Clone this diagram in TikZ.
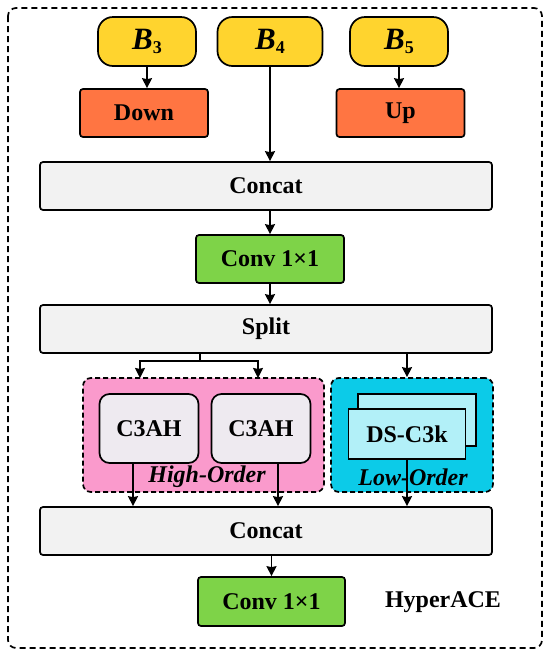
\documentclass[tikz,border=0pt]{standalone}
\usepackage{fontspec}
\setmainfont{Liberation Serif}
\usepackage{tikz}
\usetikzlibrary{arrows.meta, positioning, calc}
\definecolor{inyellow}{HTML}{FFD42E}
\definecolor{scaleorange}{HTML}{FF7542}
\definecolor{convgreen}{HTML}{7ED348}
\definecolor{opgray}{HTML}{F2F2F2}
\definecolor{highpink}{HTML}{FA9ACC}
\definecolor{ahlilac}{HTML}{EEEAF0}
\definecolor{lowcyan}{HTML}{0CCBE8}
\definecolor{dscyan}{HTML}{B2F0F8}
\newcommand{\bfeat}[1]{\textit{\fontsize{31}{34}\selectfont B}\raisebox{-0.4ex}{\fontsize{18}{19}\selectfont #1}}

\begin{document}
\begin{tikzpicture}[
      x=1pt, y=-1pt,
      font=\fontsize{24}{28}\selectfont\bfseries,
      box/.style={rectangle, rounded corners=3pt, draw=black, line width=1.7pt,
                  inner sep=0pt, align=center},
      feat/.style={box, rounded corners=15pt, fill=inyellow, minimum width=98pt, minimum height=49pt},
      scalebox/.style={box, fill=scaleorange, minimum width=128pt, minimum height=48pt},
      wide/.style={box, fill=opgray, minimum width=452pt, minimum height=48pt},
      conv/.style={box, fill=convgreen, minimum width=148pt, minimum height=48pt},
      group/.style={box, rounded corners=8pt, dashed, dash pattern=on 5pt off 3pt, minimum height=114pt},
      arr/.style={-{Stealth[length=10pt, width=10pt, inset=1pt]}, line width=1.7pt}
    ]
      \useasboundingbox (0,0) rectangle (550,657);
      \draw[line width=1.7pt, dash pattern=on 6pt off 4pt, rounded corners=8pt] (8,8) rectangle (542,648);
      % inputs and scaling
      \node[feat] (b3) at (147,41.5) {\bfeat{3}};
      \node[feat, minimum width=105pt] (b4) at (270,41.5) {\bfeat{4}};
      \node[feat] (b5) at (399,41.5) {\bfeat{5}};
      \node[scalebox] (down) at (144,113) {Down};
      \node[scalebox] (up) at (400.5,113) {Up};
      \node[wide] (concat) at (266,186) {Concat};
      \node[conv] (conv) at (270,259) {Conv 1×1};
      \node[wide] (split) at (266,329) {Split};
      % high-order and low-order branches
      \node[group, fill=highpink, minimum width=241pt] (high) at (203.5,435) {};
      \node[group, fill=lowcyan, minimum width=162pt] (low) at (412,435) {};
      \node[box, rounded corners=10pt, fill=ahlilac, minimum width=99pt, minimum height=69pt] (ahA) at (149,428.5) {C3AH};
      \node[box, rounded corners=10pt, fill=ahlilac, minimum width=99pt, minimum height=69pt] (ahB) at (261,428.5) {C3AH};
      \node[box, rounded corners=0pt, fill=dscyan, minimum width=118pt, minimum height=52pt] (dsback) at (417,420) {};
      \node[box, rounded corners=0pt, fill=dscyan, minimum width=117pt, minimum height=50pt] (dsfront) at (407,434) {DS-C3k};
      \node[font=\fontsize{24}{28}\selectfont\bfseries\itshape] (highlbl) at (207,477) {High-Order};
      \node[font=\fontsize{24}{28}\selectfont\bfseries\itshape] (lowlbl) at (413,477) {Low-Order};
      \node[wide] (concat2) at (266,531) {Concat};
      \node[conv, minimum width=147pt, minimum height=49pt] (conv2) at (271.5,601.5) {Conv 1×1};
      \node (hyperace) at (443,602) {HyperACE};
      % connectors
      \draw[arr] (b3) -- (b3.south |- down.north);
      \draw[arr] (b4) -- (b4.south |- concat.north);
      \draw[arr] (b5) -- (b5.south |- up.north);
      \draw[arr] (concat.south -| conv) -- (conv.north);
      \draw[arr] (conv) -- (conv.south |- split.north);
      \coordinate (fork) at (200,361);
      \coordinate (hiA) at (140,378);
      \coordinate (hiB) at (258,378);
      \draw[line width=1.7pt] (split.south -| fork) -- (fork);
      \draw[arr] (fork) -| (hiA);
      \draw[arr] (fork) -| (hiB);
      \draw[arr] (split.south -| dsfront) -- (dsfront.center |- low.north);
      \draw[arr] ([xshift=-16pt]ahA.south) -- ([xshift=-16pt]ahA.south |- concat2.north);
      \draw[arr] ([xshift=17pt]ahB.south) -- ([xshift=17pt]ahB.south |- concat2.north);
      \draw[arr] (dsfront.south) -- (dsfront.south |- concat2.north);
      \draw[arr] (concat2.south -| conv2) -- (conv2.north);
    \end{tikzpicture}
\end{document}
